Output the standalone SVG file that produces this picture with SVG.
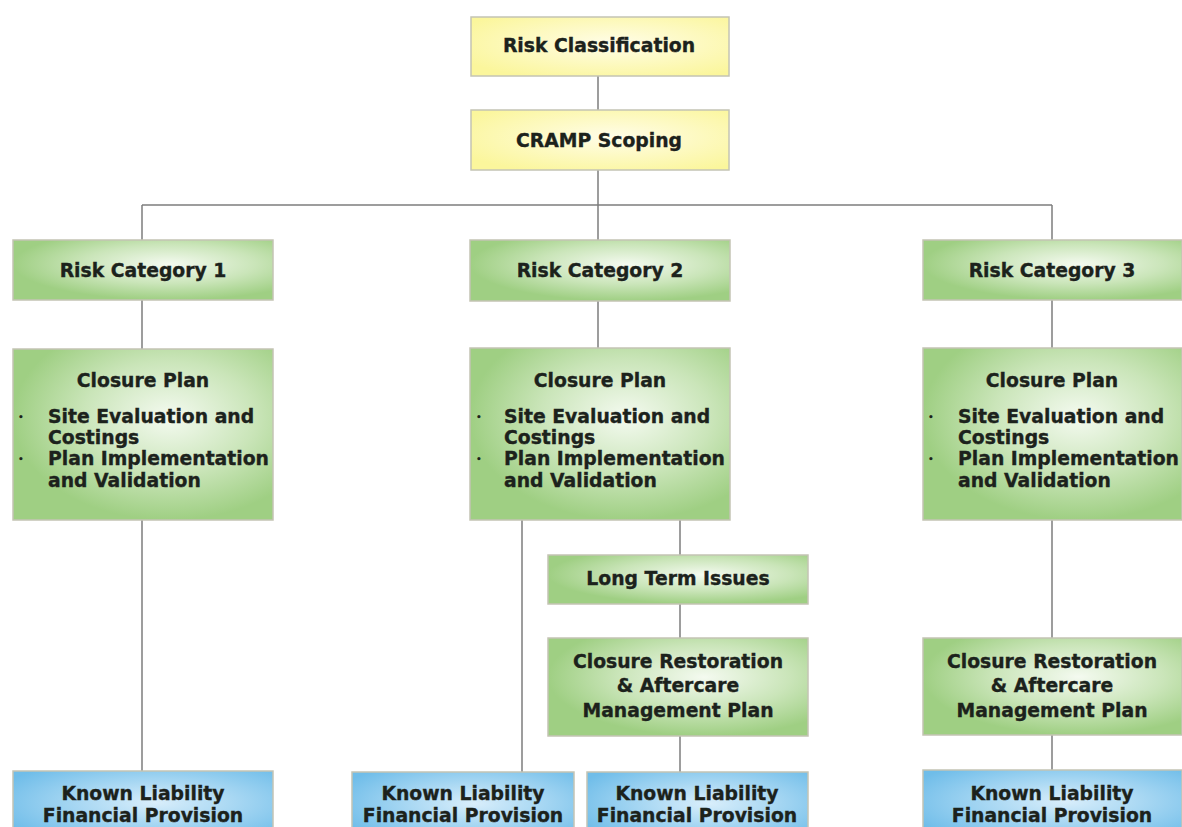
<svg xmlns="http://www.w3.org/2000/svg" width="1182" height="827" viewBox="0 0 1182 827">
  <defs>
    <radialGradient id="gYellow" cx="0.55" cy="0.45" r="0.65">
      <stop offset="0" stop-color="#fffde8"/>
      <stop offset="1" stop-color="#fbf69c"/>
    </radialGradient>
    <radialGradient id="gGreen" cx="0.6" cy="0.4" r="0.6">
      <stop offset="0" stop-color="#f4faf0"/>
      <stop offset="0.55" stop-color="#cae5b9"/>
      <stop offset="1" stop-color="#9fcf83"/>
    </radialGradient>
    <radialGradient id="gBlue" cx="0.55" cy="0.45" r="0.65">
      <stop offset="0" stop-color="#d9eefb"/>
      <stop offset="1" stop-color="#6fbde9"/>
    </radialGradient>
    <style>
      .box { stroke: #c4c4b4; stroke-width: 1.5; }
      .y { fill: url(#gYellow); }
      .g { fill: url(#gGreen); }
      .b { fill: url(#gBlue); }
      text { font-family: "DejaVu Sans", "Liberation Sans", sans-serif; font-weight: bold; font-size: 18.8px; fill: #1c221c; stroke: #1c221c; stroke-width: 0.35; }
      .c { text-anchor: middle; }
      .dot { font-size: 9px; stroke: none; }
      .conn line { stroke: #7d7d7d; stroke-width: 1.5; }
    </style>
  </defs>

  <rect width="1182" height="827" fill="#ffffff"/>

  <g class="conn">
    <line x1="598" y1="76" x2="598" y2="110"/>
    <line x1="598" y1="170" x2="598" y2="240"/>
    <line x1="142" y1="205" x2="1052" y2="205"/>
    <line x1="142" y1="205" x2="142" y2="240"/>
    <line x1="1052" y1="205" x2="1052" y2="240"/>
    <line x1="142" y1="300" x2="142" y2="349"/>
    <line x1="598" y1="301" x2="598" y2="348"/>
    <line x1="1052" y1="300" x2="1052" y2="348"/>
    <line x1="142" y1="520" x2="142" y2="771"/>
    <line x1="522" y1="520" x2="522" y2="772"/>
    <line x1="680" y1="520" x2="680" y2="555"/>
    <line x1="680" y1="604" x2="680" y2="638"/>
    <line x1="680" y1="736" x2="680" y2="772"/>
    <line x1="1052" y1="520" x2="1052" y2="638"/>
    <line x1="1052" y1="735" x2="1052" y2="770"/>
  </g>

  <g id="risk-classification">
    <rect class="box y" x="471" y="17" width="258" height="59"/>
    <text class="c" x="599" y="52">Risk Classification</text>
  </g>

  <g id="cramp-scoping">
    <rect class="box y" x="471" y="110" width="258" height="60"/>
    <text class="c" x="599" y="147">CRAMP Scoping</text>
  </g>

  <g id="risk-category-1">
    <rect class="box g" x="13" y="240" width="260" height="60"/>
    <text class="c" x="143" y="277">Risk Category 1</text>
  </g>

  <g id="risk-category-2">
    <rect class="box g" x="470" y="240" width="260" height="61"/>
    <text class="c" x="600" y="277">Risk Category 2</text>
  </g>

  <g id="risk-category-3">
    <rect class="box g" x="923" y="240" width="259" height="60"/>
    <text class="c" x="1052" y="277">Risk Category 3</text>
  </g>

  <g id="closure-plan-1">
    <rect class="box g" x="13" y="349" width="260" height="171"/>
    <text class="c" x="143" y="387">Closure Plan</text>
    <text class="dot" x="18" y="420">•</text>
    <text x="48" y="423">Site Evaluation and</text>
    <text x="48" y="444">Costings</text>
    <text class="dot" x="18" y="462">•</text>
    <text x="48" y="465">Plan Implementation</text>
    <text x="48" y="487">and Validation</text>
  </g>

  <g id="closure-plan-2">
    <rect class="box g" x="470" y="348" width="260" height="172"/>
    <text class="c" x="600" y="387">Closure Plan</text>
    <text class="dot" x="476" y="420">•</text>
    <text x="504" y="423">Site Evaluation and</text>
    <text x="504" y="444">Costings</text>
    <text class="dot" x="476" y="462">•</text>
    <text x="504" y="465">Plan Implementation</text>
    <text x="504" y="487">and Validation</text>
  </g>

  <g id="closure-plan-3">
    <rect class="box g" x="923" y="348" width="259" height="172"/>
    <text class="c" x="1052" y="387">Closure Plan</text>
    <text class="dot" x="928" y="420">•</text>
    <text x="958" y="423">Site Evaluation and</text>
    <text x="958" y="444">Costings</text>
    <text class="dot" x="928" y="462">•</text>
    <text x="958" y="465">Plan Implementation</text>
    <text x="958" y="487">and Validation</text>
  </g>

  <g id="long-term-issues">
    <rect class="box g" x="548" y="555" width="260" height="49"/>
    <text class="c" x="678" y="585">Long Term Issues</text>
  </g>

  <g id="restoration-plan-2">
    <rect class="box g" x="548" y="638" width="260" height="98"/>
    <text class="c" x="678" y="668">Closure Restoration</text>
    <text class="c" x="678" y="692">&amp; Aftercare</text>
    <text class="c" x="678" y="717">Management Plan</text>
  </g>

  <g id="restoration-plan-3">
    <rect class="box g" x="923" y="638" width="259" height="97"/>
    <text class="c" x="1052" y="668">Closure Restoration</text>
    <text class="c" x="1052" y="692">&amp; Aftercare</text>
    <text class="c" x="1052" y="717">Management Plan</text>
  </g>

  <g id="provision-1">
    <rect class="box b" x="13" y="771" width="260" height="70"/>
    <text class="c" x="143" y="800">Known Liability</text>
    <text class="c" x="143" y="822">Financial Provision</text>
  </g>

  <g id="provision-2a">
    <rect class="box b" x="352" y="772" width="222" height="70"/>
    <text class="c" x="463" y="800">Known Liability</text>
    <text class="c" x="463" y="822">Financial Provision</text>
  </g>

  <g id="provision-2b">
    <rect class="box b" x="587" y="772" width="221" height="70"/>
    <text class="c" x="697" y="800">Known Liability</text>
    <text class="c" x="697" y="822">Financial Provision</text>
  </g>

  <g id="provision-3">
    <rect class="box b" x="923" y="770" width="259" height="70"/>
    <text class="c" x="1052" y="800">Known Liability</text>
    <text class="c" x="1052" y="822">Financial Provision</text>
  </g>
</svg>
